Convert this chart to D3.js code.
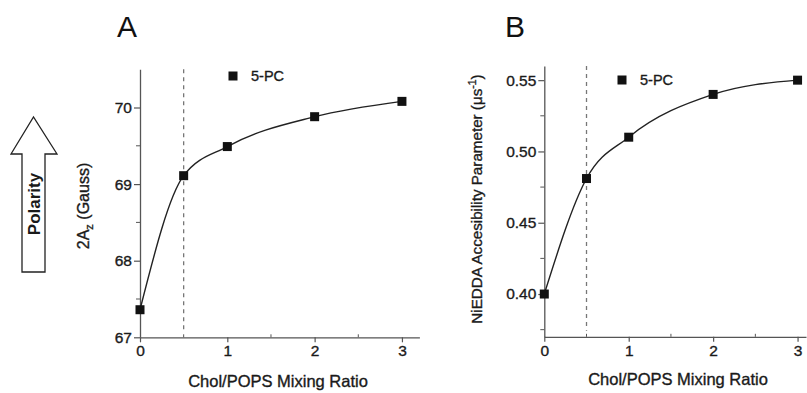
<!DOCTYPE html>
<html><head><meta charset="utf-8">
<script src="https://cdn.jsdelivr.net/npm/d3@7"></script>
<style>body{margin:0;background:#fff}svg{display:block;font-family:"Liberation Sans",Arial,sans-serif}</style>
</head><body>
<script>
const ratios = [0, 0.5, 1, 2, 3];
const seriesA = [67.36, 69.11, 69.49, 69.88, 70.08];
const seriesB = [0.400, 0.481, 0.510, 0.540, 0.550];
const ticksAx = [0, 1, 2, 3];
const minorAx = [0.5, 1.5, 2.5];
const ticksAy = [67, 68, 69, 70];
const minorAy = [67.5, 68.5, 69.5];
const ticksBy = [0.40, 0.45, 0.50, 0.55];
const minorBy = [0.375, 0.425, 0.475, 0.525];
const legendLabel = "5-PC";
const xLabel = "Chol/POPS Mixing Ratio";
const thresholdX = 0.5;

const W = 807, H = 393;
const svg = d3.select("body").append("svg").attr("width", W).attr("height", H);
const axisColor = "#555", textColor = "#1a1a1a";

function thick(sel) { return sel.attr("stroke", textColor).attr("stroke-width", 0.35); }

function panel(cfg) {
  const g = svg.append("g");
  const x = d3.scaleLinear().domain(cfg.xDomain).range(cfg.xRange);
  const y = d3.scaleLinear().domain(cfg.yDomain).range(cfg.yRange);
  const y0 = cfg.yRange[0], x0 = cfg.xRange[0];

  // x axis
  const xa = g.append("g").attr("transform", `translate(0,${y0})`)
    .call(d3.axisBottom(x).tickValues(ticksAx).tickSize(5).tickSizeOuter(0).tickFormat(d3.format("d")));
  xa.select(".domain").attr("stroke", axisColor).attr("stroke-width", 1.3);
  xa.selectAll(".tick line").attr("stroke", axisColor).attr("stroke-width", 1.2);
  thick(xa.selectAll(".tick text").attr("fill", textColor).attr("font-size", 15.5).attr("dy", "0.9em").attr("y", 5));
  g.selectAll(".xminor").data(minorAx).enter().append("line")
    .attr("x1", d => x(d)).attr("x2", d => x(d)).attr("y1", y0 - 3).attr("y2", y0)
    .attr("stroke", axisColor).attr("stroke-width", 1);

  // y axis
  const ya = g.append("g").attr("transform", `translate(${x0},0)`)
    .call(d3.axisLeft(y).tickValues(cfg.yTicks).tickSize(6).tickSizeOuter(0).tickFormat(cfg.yFormat));
  ya.select(".domain").attr("stroke", axisColor).attr("stroke-width", 1.3);
  ya.selectAll(".tick line").attr("stroke", axisColor).attr("stroke-width", 1.2);
  thick(ya.selectAll(".tick text").attr("fill", textColor).attr("font-size", 15.5).attr("x", -8));
  g.selectAll(".yminor").data(cfg.yMinor).enter().append("line")
    .attr("x1", x0 - 4).attr("x2", x0).attr("y1", d => y(d)).attr("y2", d => y(d))
    .attr("stroke", axisColor).attr("stroke-width", 1);

  // dashed threshold
  g.append("line").attr("x1", x(thresholdX)).attr("x2", x(thresholdX))
    .attr("y1", cfg.yRange[1]).attr("y2", y0 - 6)
    .attr("stroke", "#777").attr("stroke-width", 1.3).attr("stroke-dasharray", "4,4");

  // fit curve
  const pts = ratios.map((r, i) => [r, cfg.values[i]]);
  g.append("path").datum(pts)
    .attr("d", d3.line().x(d => x(d[0])).y(d => y(d[1])).curve(d3.curveMonotoneX))
    .attr("fill", "none").attr("stroke", "#222").attr("stroke-width", 1.4);

  // points
  const s = 9;
  g.selectAll(".pt").data(pts).enter().append("rect")
    .attr("x", d => x(d[0]) - s / 2).attr("y", d => y(d[1]) - s / 2)
    .attr("width", s).attr("height", s).attr("fill", "#111");

  // legend
  g.append("rect").attr("x", cfg.legend[0] - s / 2).attr("y", cfg.legend[1] - s / 2)
    .attr("width", s).attr("height", s).attr("fill", "#111");
  thick(g.append("text").attr("x", cfg.legend[0] + 18).attr("y", cfg.legend[1] + 5)
    .attr("font-size", 14.5).attr("fill", textColor).text(legendLabel));

  // x label
  thick(g.append("text").attr("x", cfg.xLabelPos[0]).attr("y", cfg.xLabelPos[1])
    .attr("text-anchor", "middle").attr("font-size", 16.5).attr("fill", textColor).text(xLabel));

  // panel letter
  g.append("text").attr("x", cfg.letterPos[0]).attr("y", cfg.letterPos[1])
    .attr("font-size", 30).attr("fill", "#111").text(cfg.letter);

  return {g, x, y};
}

panel({
  xDomain: [0, 3.2], xRange: [140, 419.4],
  yDomain: [67, 70.5], yRange: [337.3, 69.2],
  yTicks: ticksAy, yMinor: minorAy, yFormat: d3.format("d"),
  values: seriesA, legend: [233, 76], xLabelPos: [278, 387],
  letter: "A", letterPos: [117, 37]
});
panel({
  xDomain: [0, 3.1], xRange: [544.3, 806],
  yDomain: [0.37, 0.56], yRange: [336.8, 65.9],
  yTicks: ticksBy, yMinor: minorBy, yFormat: d3.format(".2f"),
  values: seriesB, legend: [622, 80], xLabelPos: [678, 385],
  letter: "B", letterPos: [505, 37]
});

// y labels
const ylA = thick(svg.append("text").attr("transform", "translate(89,206) rotate(-90)")
  .attr("text-anchor", "middle").attr("font-size", 16).attr("fill", textColor));
ylA.append("tspan").text("2A");
ylA.append("tspan").attr("font-size", 11).attr("dy", 4).text("z");
ylA.append("tspan").attr("dy", -4).text(" (Gauss)");

const ylB = thick(svg.append("text").attr("transform", "translate(482,199) rotate(-90)")
  .attr("text-anchor", "middle").attr("font-size", 15.2).attr("fill", textColor));
ylB.append("tspan").text("NiEDDA Accesibility Parameter (\u03BCs");
ylB.append("tspan").attr("font-size", 10.5).attr("dy", -6).text("-1");
ylB.append("tspan").attr("dy", 6).text(")");

// polarity arrow
const arrow = [[22,272],[22,154],[11,154],[33.5,117],[57,154],[45,154],[45,272]];
svg.append("path").attr("d", d3.line()(arrow) + "Z")
  .attr("fill", "#fff").attr("stroke", "#222").attr("stroke-width", 1.3);
svg.append("text").attr("transform", "translate(39.5,204) rotate(-90)")
  .attr("text-anchor", "middle").attr("font-size", 17).attr("font-weight", "bold")
  .attr("fill", textColor).text("Polarity");
</script>
</body></html>
